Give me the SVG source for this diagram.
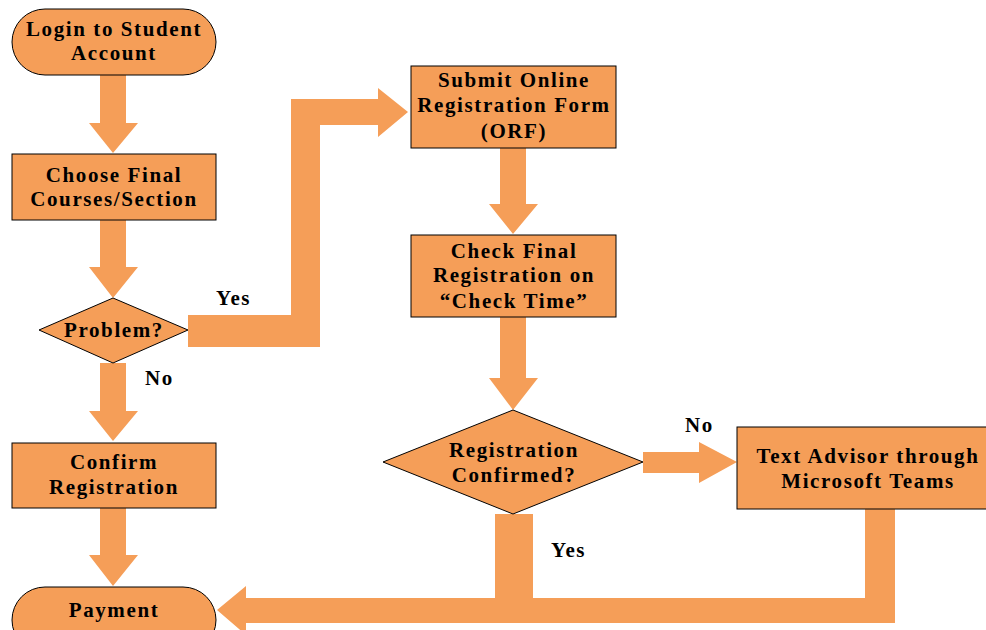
<svg xmlns="http://www.w3.org/2000/svg" width="986" height="630" viewBox="0 0 986 630">
<style>
.n{fill:#F59E58;stroke:#000;stroke-width:1}
.c{fill:#F59E58;stroke:none}
text{font-family:"Liberation Serif","Times New Roman",serif;font-weight:bold;font-size:21px;letter-spacing:1.6px;fill:#000;text-anchor:middle}
.l{text-anchor:start}
</style>
<rect width="986" height="630" fill="#fff"/>
<g id="connectors">
<polygon class="c" points="100,75 126,75 126,123 138,123 113,153 89,123 100,123"/>
<polygon class="c" points="100,220 126,220 126,267 138,267 113,298 89,267 100,267"/>
<polygon class="c" points="100,363 126,363 126,411 138,411 113,441 89,411 100,411"/>
<polygon class="c" points="100,508 126,508 126,555 138,555 113,586 89,555 100,555"/>
<polygon class="c" points="188,315 291,315 291,99 378,99 378,88 408,112 378,137 378,125 320,125 320,347 188,347"/>
<polygon class="c" points="500,148 526,148 526,204 538,204 513,234 489,204 500,204"/>
<polygon class="c" points="500,317 526,317 526,378 538,378 513,410 489,378 500,378"/>
<polygon class="c" points="643,452 699,452 699,442 737,462 699,483 699,473 643,473"/>
<polygon class="c" points="495,514 533,514 533,598 865,598 865,509 895,509 895,623 246,623 246,635 217,610 246,586 246,598 495,598"/>
<text class="l" x="216" y="305">Yes</text>
<text class="l" x="145" y="385">No</text>
<text class="l" x="685" y="432">No</text>
<text class="l" x="551" y="557">Yes</text>
</g>
<g id="login">
<rect class="n" x="12" y="9" width="204" height="66" rx="33" ry="33"/>
<text x="114" y="36">Login to Student</text>
<text x="114" y="60">Account</text>
</g>
<g id="choose">
<rect class="n" x="12" y="154" width="204" height="66"/>
<text x="114" y="182">Choose Final</text>
<text x="114" y="206">Courses/Section</text>
</g>
<g id="problem">
<polygon class="n" points="39,330 113,298 188,330 113,363"/>
<text x="114" y="337">Problem?</text>
</g>
<g id="confirm">
<rect class="n" x="12" y="443" width="204" height="65"/>
<text x="114" y="469">Confirm</text>
<text x="114" y="494">Registration</text>
</g>
<g id="payment">
<rect class="n" x="12" y="587" width="204" height="66" rx="33" ry="33"/>
<text x="114" y="617">Payment</text>
</g>
<g id="submit">
<rect class="n" x="411" y="66" width="205" height="82"/>
<text x="514" y="87">Submit Online</text>
<text x="514" y="112">Registration Form</text>
<text x="514" y="138">(ORF)</text>
</g>
<g id="check">
<rect class="n" x="411" y="235" width="205" height="82"/>
<text x="514" y="258">Check Final</text>
<text x="514" y="282">Registration on</text>
<text x="514" y="308">“Check Time”</text>
</g>
<g id="regconfirmed">
<polygon class="n" points="383,462 513,410 643,462 513,514"/>
<text x="514" y="457">Registration</text>
<text x="514" y="482">Confirmed?</text>
</g>
<g id="advisor">
<rect class="n" x="737" y="427" width="260" height="82"/>
<text x="868" y="463">Text Advisor through</text>
<text x="868" y="488">Microsoft Teams</text>
</g>
</svg>
